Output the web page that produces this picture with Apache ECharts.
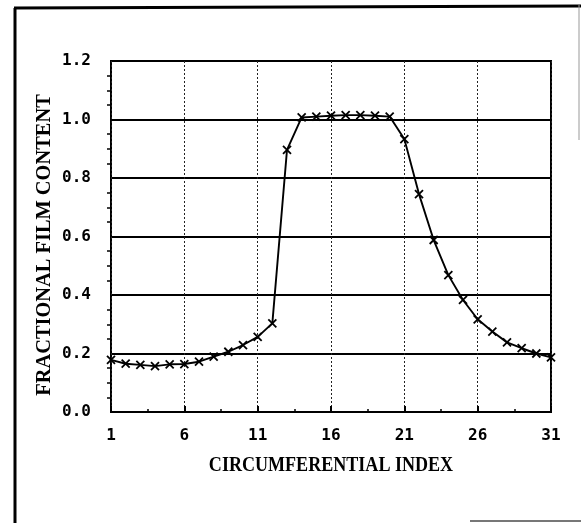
<!DOCTYPE html>
<html>
<head>
<meta charset="utf-8">
<script src="https://cdn.jsdelivr.net/npm/echarts@6/dist/echarts.min.js"></script>
<style>
  html, body { margin: 0; padding: 0; background: #fff; }
  #chart { width: 581px; height: 523px; }
</style>
</head>
<body>
<div id="chart"></div>
<script>
// circumferential index 1..31
const indexes = [1, 2, 3, 4, 5, 6, 7, 8, 9, 10, 11, 12, 13, 14, 15, 16,
  17, 18, 19, 20, 21, 22, 23, 24, 25, 26, 27, 28, 29, 30, 31]
// fractional film content
const filmContent = [0.178, 0.165, 0.161, 0.157, 0.163, 0.164, 0.172, 0.189, 0.206, 0.229, 0.257,
  0.303, 0.896, 1.007, 1.010, 1.013, 1.015, 1.015, 1.013, 1.010, 0.933, 0.745, 0.588,
  0.468, 0.383, 0.317, 0.275, 0.238, 0.218, 0.200, 0.187]

const xTitle = 'CIRCUMFERENTIAL INDEX'
const yTitle = 'FRACTIONAL FILM CONTENT'

const chart = echarts.init(document.getElementById('chart'))

const labelFont = '"DejaVu Sans Mono", monospace'
const titleFont = '"Liberation Serif", "Times New Roman", serif'

chart.setOption({
  backgroundColor: '#fff',
  animation: false,
  grid: {
    left: 111, top: 61, width: 440, height: 351,
    show: true, borderColor: '#000', borderWidth: 2
  },
  xAxis: {
    type: 'value', min: 1, max: 31, interval: 5,
    axisLine: { show: false },
    axisTick: { show: true, inside: true, length: 6, lineStyle: { color: '#000', width: 2 } },
    minorTick: { show: true, splitNumber: 2, length: 3, lineStyle: { color: '#000', width: 1.5 } },
    splitLine: { show: true, lineStyle: { color: '#222', width: 1, type: [2, 2] } },
    axisLabel: { color: '#000', fontFamily: labelFont, fontWeight: 'bold', fontSize: 16, margin: 16 }
  },
  yAxis: {
    type: 'value', min: 0, max: 1.2, interval: 0.2,
    axisLine: { show: false },
    axisTick: { show: false },
    minorTick: { show: true, splitNumber: 4, length: 4, lineStyle: { color: '#000', width: 1.5 } },
    splitLine: { show: true, lineStyle: { color: '#000', width: 1.8 } },
    axisLabel: {
      color: '#000', fontFamily: labelFont, fontWeight: 'bold', fontSize: 16, margin: 20,
      formatter: v => v.toFixed(1)
    }
  },
  series: [{
    type: 'line',
    data: indexes.map((x, i) => [x, filmContent[i]]),
    lineStyle: { color: '#000', width: 1.9 },
    symbol: 'path://M0,0L10,10M10,0L0,10',
    symbolSize: 8,
    itemStyle: { color: 'none', borderColor: '#000', borderWidth: 1.8 }
  }],
  graphic: [
    // outer frame of the scanned figure
    { type: 'line', shape: { x1: 15, y1: 8, x2: 15, y2: 523 }, style: { stroke: '#000', lineWidth: 3 } },
    { type: 'line', shape: { x1: 14, y1: 8, x2: 581, y2: 6 }, style: { stroke: '#000', lineWidth: 3 } },
    { type: 'line', shape: { x1: 579, y1: 5, x2: 579, y2: 140 }, style: { stroke: '#999', lineWidth: 1 } },
    { type: 'line', shape: { x1: 470, y1: 521, x2: 581, y2: 521 }, style: { stroke: '#777', lineWidth: 2 } },
    {
      type: 'text', x: 331, y: 466, scaleX: 0.86,
      style: {
        text: xTitle, fill: '#000', font: 'bold 21px ' + titleFont,
        textAlign: 'center', textVerticalAlign: 'middle'
      }
    },
    {
      type: 'text', x: 45, y: 245, rotation: Math.PI / 2, scaleX: 1.02,
      style: {
        text: yTitle, fill: '#000', font: 'bold 20px ' + titleFont,
        textAlign: 'center', textVerticalAlign: 'middle'
      }
    }
  ]
})
</script>
</body>
</html>
